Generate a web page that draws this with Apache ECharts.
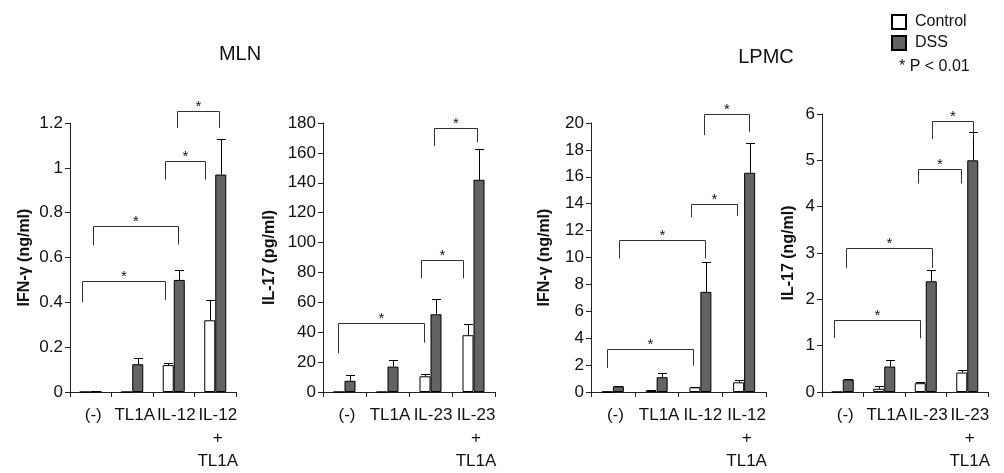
<!DOCTYPE html>
<html><head><meta charset="utf-8">
<script src="https://cdn.jsdelivr.net/npm/echarts@6/dist/echarts.min.js"></script>
<style>html,body{margin:0;padding:0;background:#fff}#c{width:1004px;height:473px}</style>
</head><body><div id="c"></div>
<script>
// ---------- data ----------
const categoriesIL12 = ['(-)', 'TL1A', 'IL-12', 'IL-12\n+\nTL1A'];
const categoriesIL23 = ['(-)', 'TL1A', 'IL-23', 'IL-23\n+\nTL1A'];
const seriesNames = ['Control', 'DSS'];

// MLN IFN-γ (ng/ml)
const mlnIfnControl    = [0, 0, 0.12, 0.32];
const mlnIfnControlErr = [0, 0, 0.13, 0.41];
const mlnIfnDss        = [0.003, 0.124, 0.5, 0.97];
const mlnIfnDssErr     = [0.004, 0.15, 0.545, 1.13];
// brackets: [leftCat, leftOffset, rightCat, rightOffset, topValue, leftEndValue, rightEndValue]
const mlnIfnBrackets = [
  [0, -0.2, 2, -0.2, 0.494, 0.40, 0.41],
  [0, 0.05, 2, 0.1, 0.742, 0.654, 0.658],
  [2, -0.2, 3, -0.24, 1.029, 0.948, 0.948],
  [2, 0.09, 3, 0.08, 1.253, 1.178, 1.178]
];

// MLN IL-17 (pg/ml)
const mlnIl17Control    = [0, 0, 10.5, 38];
const mlnIl17ControlErr = [0, 0, 12, 45.5];
const mlnIl17Dss        = [7.5, 17, 52, 142];
const mlnIl17DssErr     = [11.5, 21.5, 62.5, 162.5];
const mlnIl17Brackets = [
  [0, -0.15, 2, -0.15, 45.9, 26, 33],
  [2, -0.23, 3, -0.24, 88.3, 76, 76],
  [2, 0.08, 3, 0.07, 176.7, 164.5, 167]
];

// LPMC IFN-γ (ng/ml)
const lpmcIfnControl    = [0.02, 0.12, 0.35, 0.72];
const lpmcIfnControlErr = [0.03, 0.17, 0.4, 0.92];
const lpmcIfnDss        = [0.42, 1.1, 7.45, 16.3];
const lpmcIfnDssErr     = [0.46, 1.4, 9.7, 18.55];
const lpmcIfnBrackets = [
  [0, -0.14, 2, -0.17, 3.18, 1.79, 1.96],
  [0, 0.14, 2, 0.1, 11.27, 9.93, 9.93],
  [2, -0.21, 3, -0.16, 13.96, 13.0, 13.1],
  [2, 0.08, 3, 0.1, 20.7, 19.1, 19.35]
];

// LPMC IL-17 (ng/ml)
const lpmcIl17Control    = [0, 0.07, 0.19, 0.42];
const lpmcIl17ControlErr = [0, 0.13, 0.21, 0.47];
const lpmcIl17Dss        = [0.27, 0.55, 2.39, 5.0];
const lpmcIl17DssErr     = [0.29, 0.68, 2.63, 5.62];
const lpmcIl17Brackets = [
  [0, -0.22, 2, -0.15, 1.56, 1.16, 1.16],
  [0, 0.08, 2, 0.15, 3.1, 2.68, 2.68],
  [2, -0.19, 3, -0.16, 4.81, 4.5, 4.5],
  [2, 0.16, 3, 0.14, 5.85, 5.46, 5.5]
];

const panelTitles = ['MLN', 'LPMC'];
const legendNote = '* P < 0.01';

// ---------- chart ----------
const FONT = "'Liberation Sans', Arial, sans-serif";
const BAR_W = 11;
const chart = echarts.init(document.getElementById('c'));

const panels = [
  {cats: categoriesIL12, c: mlnIfnControl, ce: mlnIfnControlErr, d: mlnIfnDss, de: mlnIfnDssErr, br: mlnIfnBrackets,
   max: 1.2, interval: 0.2, name: 'IFN-γ (ng/ml)', gap: 37, grid: {left: 70, top: 123, width: 166, height: 272}},
  {cats: categoriesIL23, c: mlnIl17Control, ce: mlnIl17ControlErr, d: mlnIl17Dss, de: mlnIl17DssErr, br: mlnIl17Brackets,
   max: 180, interval: 20, name: 'IL-17 (pg/ml)', gap: 45, grid: {left: 323, top: 123, width: 172, height: 272}},
  {cats: categoriesIL12, c: lpmcIfnControl, ce: lpmcIfnControlErr, d: lpmcIfnDss, de: lpmcIfnDssErr, br: lpmcIfnBrackets,
   max: 20, interval: 2, name: 'IFN-γ (ng/ml)', gap: 38, grid: {left: 591, top: 123, width: 175, height: 272}},
  {cats: categoriesIL23, c: lpmcIl17Control, ce: lpmcIl17ControlErr, d: lpmcIl17Dss, de: lpmcIl17DssErr, br: lpmcIl17Brackets,
   max: 6, interval: 1, name: 'IL-17 (ng/ml)', gap: 25, grid: {left: 822, top: 114, width: 166, height: 281}}
];

function errRender(sign) {
  return function (params, api) {
    const v = api.value(1), e = api.value(2);
    if (!(e > v)) return null;
    const p0 = api.coord([api.value(0), v]);
    const p1 = api.coord([api.value(0), e]);
    const x = Math.round(p0[0] + sign * BAR_W / 2) + 0.5;
    const yt = Math.round(p1[1]) + 0.5;
    return {type: 'group', children: [
      {type: 'line', shape: {x1: x, y1: p0[1], x2: x, y2: yt}, style: {stroke: '#000', lineWidth: 1}},
      {type: 'line', shape: {x1: x - 4.5, y1: yt, x2: x + 4.5, y2: yt}, style: {stroke: '#000', lineWidth: 1}}
    ]};
  };
}

function bracketRender(params, api) {
  const bw = api.size([1, 0])[0];
  const pl = api.coord([api.value(0), api.value(4)]);
  const pr = api.coord([api.value(2), api.value(4)]);
  const lx = Math.round(pl[0] + api.value(1) * bw) + 0.5;
  const rx = Math.round(pr[0] + api.value(3) * bw) + 0.5;
  const ty = Math.round(pl[1]) + 0.5;
  const ly = api.coord([api.value(0), api.value(5)])[1];
  const ry = api.coord([api.value(2), api.value(6)])[1];
  return {type: 'group', children: [
    {type: 'polyline', shape: {points: [[lx, ly], [lx, ty], [rx, ty], [rx, ry]]},
     style: {stroke: '#333', lineWidth: 1, fill: null}},
    {type: 'text', x: (lx + rx) / 2, y: ty - 5,
     style: {text: '*', fontSize: 15, fontFamily: FONT, fill: '#111', align: 'center', verticalAlign: 'middle'}}
  ]};
}

const grid = [], xAxis = [], yAxis = [], series = [];
panels.forEach((p, i) => {
  grid.push(p.grid);
  xAxis.push({
    type: 'category', gridIndex: i, data: p.cats,
    axisLine: {lineStyle: {color: '#222', width: 1}},
    axisTick: {show: true, length: 5, lineStyle: {color: '#222'}},
    axisLabel: {interval: 0, fontSize: 17, fontFamily: FONT, color: '#111', margin: 12, lineHeight: 23, padding: [0, 0, 0, 5]}
  });
  yAxis.push({
    type: 'value', gridIndex: i, min: 0, max: p.max, interval: p.interval,
    name: p.name, nameLocation: 'middle', nameGap: p.gap,
    nameTextStyle: {fontSize: 16, fontWeight: 'bold', fontFamily: FONT, color: '#111'},
    axisLine: {show: true, lineStyle: {color: '#222', width: 1}},
    axisTick: {show: true, length: 5, lineStyle: {color: '#222'}},
    splitLine: {show: false},
    axisLabel: {fontSize: 17, fontFamily: FONT, color: '#111', margin: 7}
  });
  series.push({
    type: 'bar', name: seriesNames[0], xAxisIndex: i, yAxisIndex: i, data: p.c,
    barWidth: BAR_W, barGap: '0%', silent: true,
    itemStyle: {color: '#fff', borderColor: '#000', borderWidth: 1}
  });
  series.push({
    type: 'bar', name: seriesNames[1], xAxisIndex: i, yAxisIndex: i, data: p.d,
    barWidth: BAR_W, barGap: '0%', silent: true,
    itemStyle: {color: '#636363', borderColor: '#000', borderWidth: 1}
  });
  series.push({
    type: 'custom', xAxisIndex: i, yAxisIndex: i, silent: true, z: 5,
    renderItem: errRender(-1), encode: {x: 0, y: [1, 2]},
    data: p.cats.map((c, k) => [k, p.c[k], p.ce[k]])
  });
  series.push({
    type: 'custom', xAxisIndex: i, yAxisIndex: i, silent: true, z: 5,
    renderItem: errRender(1), encode: {x: 0, y: [1, 2]},
    data: p.cats.map((c, k) => [k, p.d[k], p.de[k]])
  });
  series.push({
    type: 'custom', xAxisIndex: i, yAxisIndex: i, silent: true, z: 6, clip: false,
    renderItem: bracketRender, encode: {x: [0, 2], y: [4, 5, 6]},
    data: p.br
  });
});

chart.setOption({
  animation: false,
  backgroundColor: '#fff',
  grid, xAxis, yAxis, series,
  legend: {
    data: seriesNames, orient: 'vertical', left: 891, top: 14, padding: 0,
    icon: 'rect', itemWidth: 14, itemHeight: 14, itemGap: 5,
    textStyle: {fontSize: 16, fontFamily: FONT, color: '#111', padding: [0, 0, 0, 4]},
    selectedMode: false
  },
  graphic: [
    {type: 'text', x: 240, y: 54, style: {text: panelTitles[0], fontSize: 20, fontFamily: FONT, fill: '#111', align: 'center', verticalAlign: 'middle'}},
    {type: 'text', x: 766, y: 57, style: {text: panelTitles[1], fontSize: 20, fontFamily: FONT, fill: '#111', align: 'center', verticalAlign: 'middle'}},
    {type: 'text', x: 899, y: 67, style: {text: legendNote, fontSize: 16, fontFamily: FONT, fill: '#111', align: 'left', verticalAlign: 'middle'}}
  ]
});
</script>
</body></html>
